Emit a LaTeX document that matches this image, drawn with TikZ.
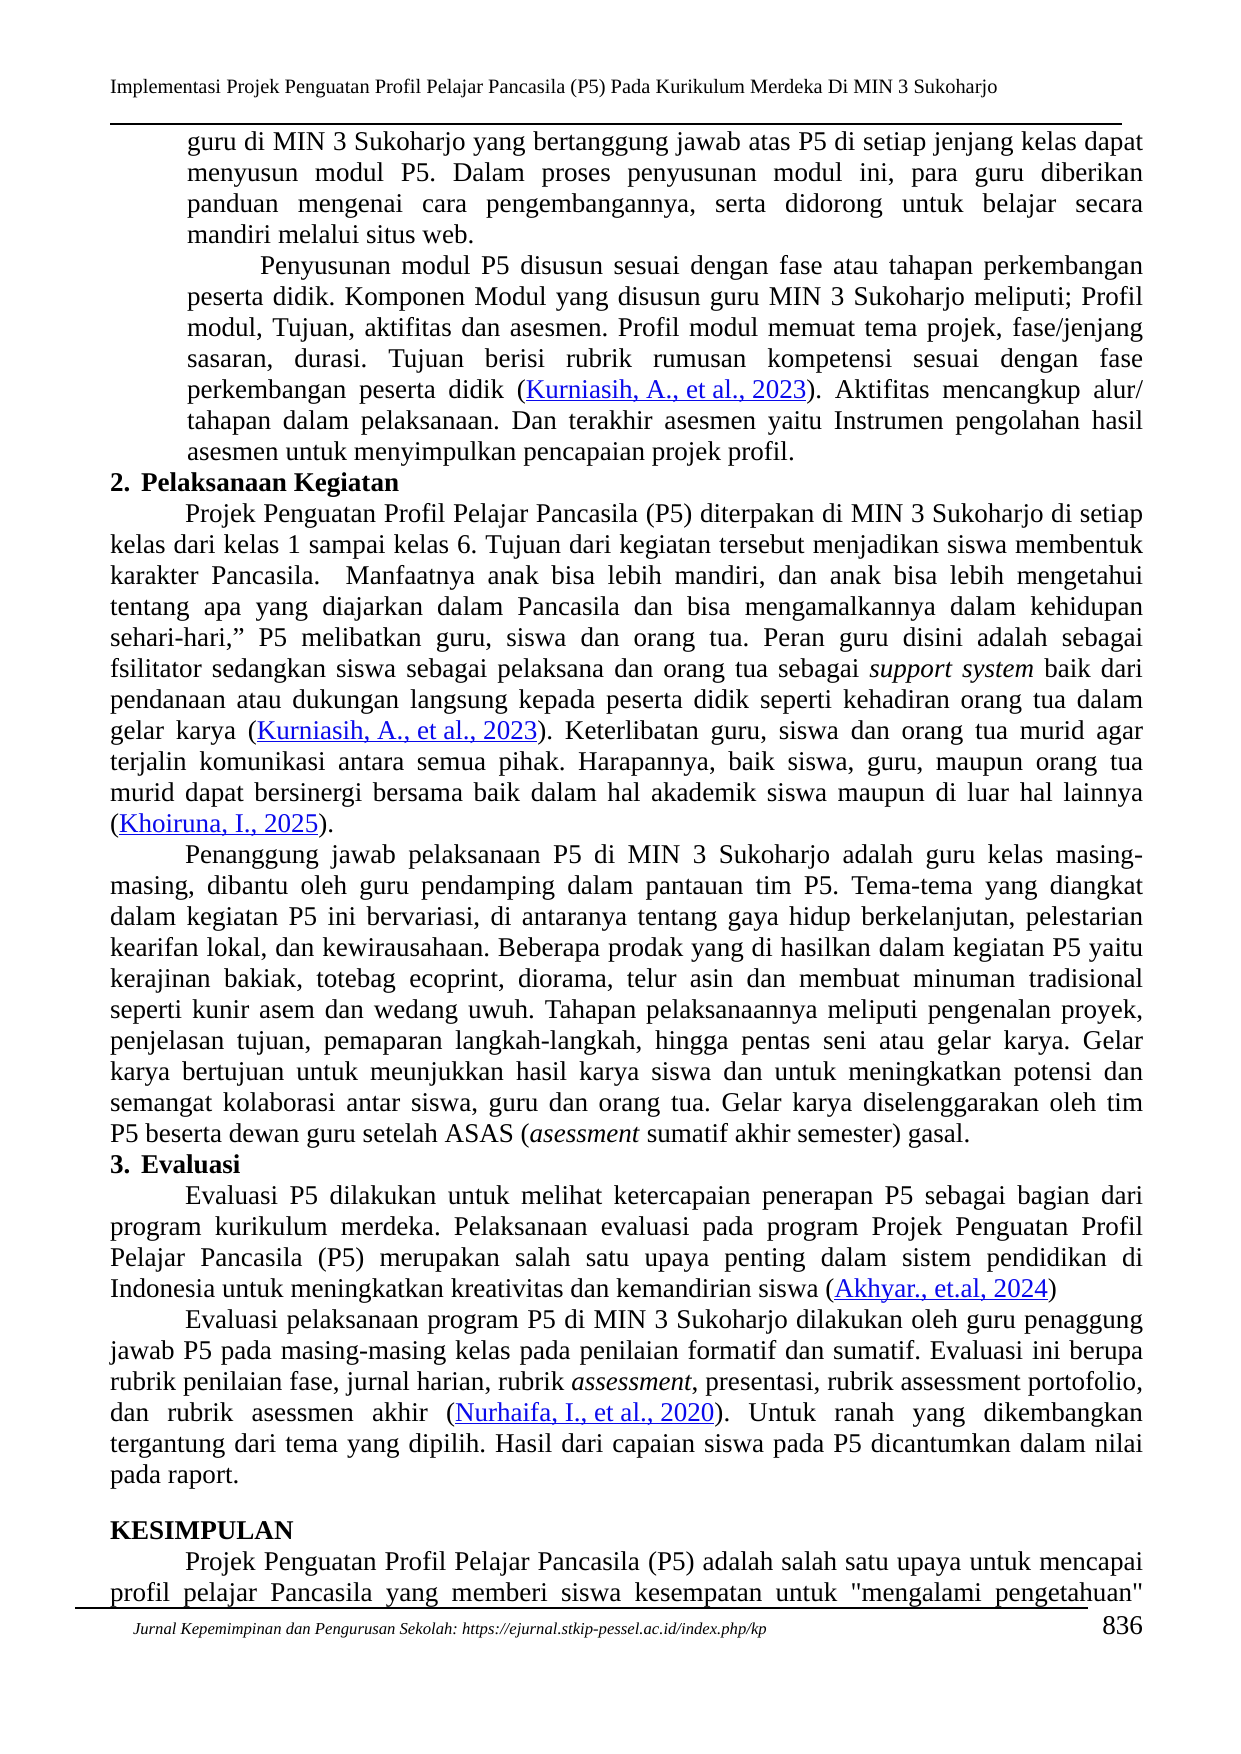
\documentclass[tikz,border=0pt]{standalone}
\usepackage{fontspec}
\setmainfont{Liberation Serif}
\usepackage{xcolor}
\definecolor{linkblue}{RGB}{10,10,235}
\newcommand{\lnk}[1]{\textcolor{linkblue}{\setbox0\hbox{#1}\rlap{\rule[-1.6pt]{\wd0}{0.6pt}}\box0}}
\frenchspacing
\tikzset{
  txt/.style={anchor=base west, inner sep=0pt, outer sep=0pt, font=\fontsize{13}{15}\selectfont},
  hdr/.style={anchor=base west, inner sep=0pt, outer sep=0pt, font=\fontsize{9.8}{11}\selectfont},
  ftr/.style={anchor=base west, inner sep=0pt, outer sep=0pt, font=\fontsize{8}{10}\selectfont\itshape},
  pnum/.style={anchor=base east, inner sep=0pt, outer sep=0pt, font=\fontsize{13}{14}\selectfont},
  rulehead/.style={line width=1pt},
  rulefoot/.style={line width=1.4pt}
}
% justified line: name, x, y, width, text
\newcommand{\JL}[5]{\node[txt] (#1) at (#2,#3) {\frenchspacing\makebox[#4][s]{#5}};}
% natural line: name, x, y, text
\newcommand{\NL}[4]{\node[txt] (#1) at (#2,#3) {\frenchspacing #4};}
\begin{document}
\begin{tikzpicture}[x=0.48pt,y=-0.48pt]
\fill[white] (0,0) rectangle (1241,1754);
\useasboundingbox (0,0) rectangle (1241,1754);
% header
\node[hdr] (head) at (110,93) {Implementasi Projek Penguatan Profil Pelajar Pancasila (P5) Pada Kurikulum Merdeka Di MIN 3 Sukoharjo};
\coordinate (hrA) at (110,124);
\coordinate (hrB) at (1122,124);
\draw[rulehead] (hrA) -- (hrB);
% block paragraph (indented)
\JL{l1}{187}{150}{458.88pt}{guru di MIN 3 Sukoharjo yang bertanggung jawab atas P5 di setiap jenjang kelas dapat}
\JL{l2}{187}{181}{458.88pt}{menyusun modul P5. Dalam proses penyusunan modul ini, para guru diberikan}
\JL{l3}{187}{212}{458.88pt}{panduan mengenai cara pengembangannya, serta didorong untuk belajar secara}
\NL{l4}{187}{243}{mandiri melalui situs web.}
\JL{l5}{260}{274}{423.84pt}{Penyusunan modul P5 disusun sesuai dengan fase atau tahapan perkembangan}
\JL{l6}{187}{305}{458.88pt}{peserta didik. Komponen Modul yang disusun guru MIN 3 Sukoharjo meliputi; Profil}
\JL{l7}{187}{336}{458.88pt}{modul, Tujuan, aktifitas dan asesmen. Profil modul memuat tema projek, fase/jenjang}
\JL{l8}{187}{367}{458.88pt}{sasaran, durasi. Tujuan berisi rubrik rumusan kompetensi sesuai dengan fase}
\JL{l9}{187}{398}{458.88pt}{perkembangan peserta didik (\lnk{Kurniasih, A., et al., 2023}). Aktifitas mencangkup alur/}
\JL{l10}{187}{429}{458.88pt}{tahapan dalam pelaksanaan. Dan terakhir asesmen yaitu Instrumen pengolahan hasil}
\NL{l11}{187}{460}{asesmen untuk menyimpulkan pencapaian projek profil.}
% section 2
\NL{h2}{110}{491}{\makebox[14.9pt][l]{\bfseries 2.}\textbf{Pelaksanaan Kegiatan}}
\JL{l13}{185}{522}{459.84pt}{Projek Penguatan Profil Pelajar Pancasila (P5) diterpakan di MIN 3 Sukoharjo di setiap}
\JL{l14}{110}{553}{495.84pt}{kelas dari kelas 1 sampai kelas 6. Tujuan dari kegiatan tersebut menjadikan siswa membentuk}
\JL{l15}{110}{584}{495.84pt}{karakter Pancasila. \ Manfaatnya anak bisa lebih mandiri, dan anak bisa lebih mengetahui}
\JL{l16}{110}{615}{495.84pt}{tentang apa yang diajarkan dalam Pancasila dan bisa mengamalkannya dalam kehidupan}
\JL{l17}{110}{646}{495.84pt}{sehari-hari,” P5 melibatkan guru, siswa dan orang tua. Peran guru disini adalah sebagai}
\JL{l18}{110}{677}{495.84pt}{fsilitator sedangkan siswa sebagai pelaksana dan orang tua sebagai \textit{support system} baik dari}
\JL{l19}{110}{708}{495.84pt}{pendanaan atau dukungan langsung kepada peserta didik seperti kehadiran orang tua dalam}
\JL{l20}{110}{739}{495.84pt}{gelar karya (\lnk{Kurniasih, A., et al., 2023}). Keterlibatan guru, siswa dan orang tua murid agar}
\JL{l21}{110}{770}{495.84pt}{terjalin komunikasi antara semua pihak. Harapannya, baik siswa, guru, maupun orang tua}
\JL{l22}{110}{801}{495.84pt}{murid dapat bersinergi bersama baik dalam hal akademik siswa maupun di luar hal lainnya}
\NL{l23}{110}{832}{(\lnk{Khoiruna, I., 2025}).}
\JL{l24}{185}{863}{459.84pt}{Penanggung jawab pelaksanaan P5 di MIN 3 Sukoharjo adalah guru kelas masing-}
\JL{l25}{110}{894}{495.84pt}{masing, dibantu oleh guru pendamping dalam pantauan tim P5. Tema-tema yang diangkat}
\JL{l26}{110}{925}{495.84pt}{dalam kegiatan P5 ini bervariasi, di antaranya tentang gaya hidup berkelanjutan, pelestarian}
\JL{l27}{110}{956}{495.84pt}{kearifan lokal, dan kewirausahaan. Beberapa prodak yang di hasilkan dalam kegiatan P5 yaitu}
\JL{l28}{110}{987}{495.84pt}{kerajinan bakiak, totebag ecoprint, diorama, telur asin dan membuat minuman tradisional}
\JL{l29}{110}{1018}{495.84pt}{seperti kunir asem dan wedang uwuh. Tahapan pelaksanaannya meliputi pengenalan proyek,}
\JL{l30}{110}{1049}{495.84pt}{penjelasan tujuan, pemaparan langkah-langkah, hingga pentas seni atau gelar karya. Gelar}
\JL{l31}{110}{1080}{495.84pt}{karya bertujuan untuk meunjukkan hasil karya siswa dan untuk meningkatkan potensi dan}
\JL{l32}{110}{1111}{495.84pt}{semangat kolaborasi antar siswa, guru dan orang tua. Gelar karya diselenggarakan oleh tim}
\NL{l33}{110}{1142}{P5 beserta dewan guru setelah ASAS (\textit{asessment} sumatif akhir semester) gasal.}
% section 3
\NL{h3}{110}{1173}{\makebox[14.9pt][l]{\bfseries 3.}\textbf{Evaluasi}}
\JL{l35}{185}{1204}{459.84pt}{Evaluasi P5 dilakukan untuk melihat ketercapaian penerapan P5 sebagai bagian dari}
\JL{l36}{110}{1235}{495.84pt}{program kurikulum merdeka. Pelaksanaan evaluasi pada program Projek Penguatan Profil}
\JL{l37}{110}{1266}{495.84pt}{Pelajar Pancasila (P5) merupakan salah satu upaya penting dalam sistem pendidikan di}
\NL{l38}{110}{1297}{Indonesia untuk meningkatkan kreativitas dan kemandirian siswa (\lnk{Akhyar., et.al, 2024})}
\JL{l39}{185}{1328}{459.84pt}{Evaluasi pelaksanaan program P5 di MIN 3 Sukoharjo dilakukan oleh guru penaggung}
\JL{l40}{110}{1359}{495.84pt}{jawab P5 pada masing-masing kelas pada penilaian formatif dan sumatif. Evaluasi ini berupa}
\JL{l41}{110}{1390}{495.84pt}{rubrik penilaian fase, jurnal harian, rubrik \textit{assessment}, presentasi, rubrik assessment portofolio,}
\JL{l42}{110}{1421}{495.84pt}{dan rubrik asessmen akhir (\lnk{Nurhaifa, I., et al., 2020}). Untuk ranah yang dikembangkan}
\JL{l43}{110}{1452}{495.84pt}{tergantung dari tema yang dipilih. Hasil dari capaian siswa pada P5 dicantumkan dalam nilai}
\NL{l44}{110}{1483}{pada raport.}
% conclusion
\NL{hk}{110}{1539}{\textbf{KESIMPULAN}}
\JL{l46}{185}{1570}{459.84pt}{Projek Penguatan Profil Pelajar Pancasila (P5) adalah salah satu upaya untuk mencapai}
\JL{l47}{110}{1601}{495.84pt}{profil pelajar Pancasila yang memberi siswa kesempatan untuk \textquotedbl mengalami pengetahuan\textquotedbl}
% footer
\coordinate (frA) at (75,1608);
\coordinate (frB) at (1088,1608);
\draw[rulefoot] (frA) -- (frB);
\node[ftr] (foot) at (133,1634) {Jurnal Kepemimpinan dan Pengurusan Sekolah: https://ejurnal.stkip-pessel.ac.id/index.php/kp};
\node[pnum] (page) at (1143,1634) {836};
\end{tikzpicture}
\end{document}
